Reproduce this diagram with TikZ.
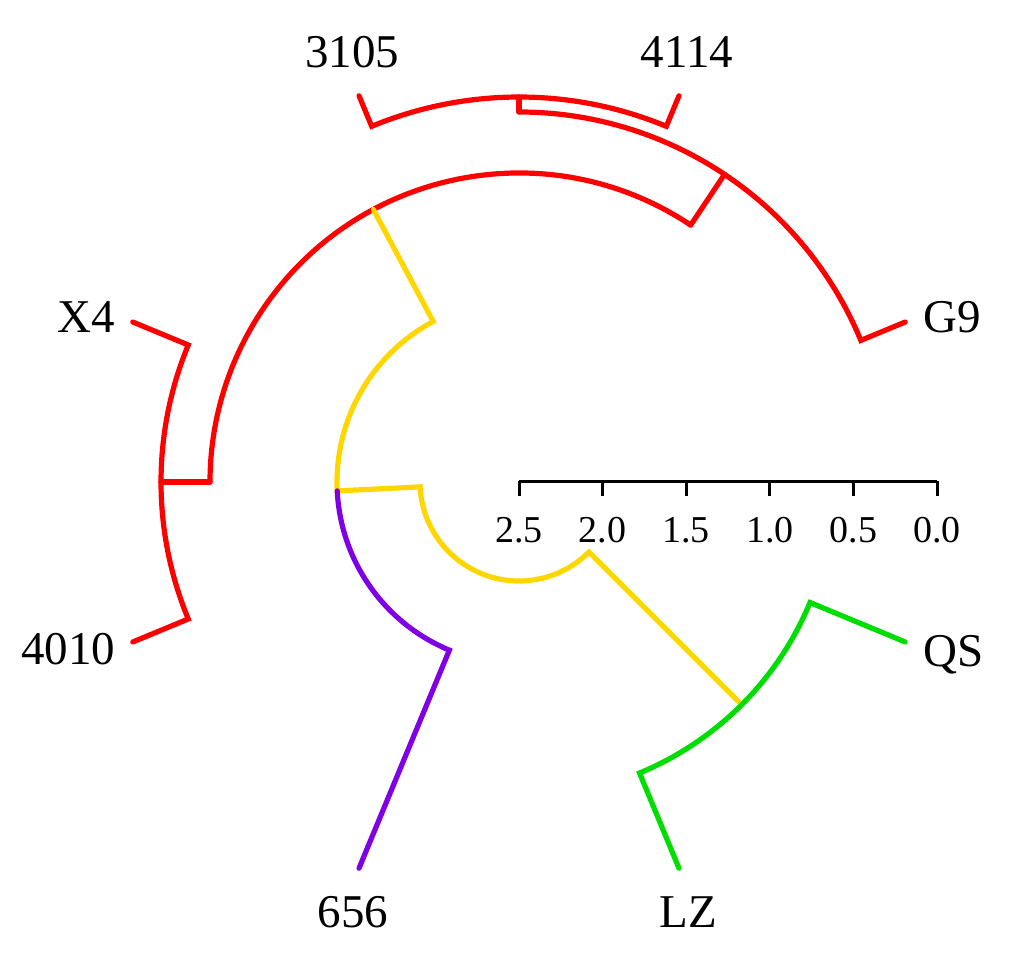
\documentclass[tikz,border=0pt]{standalone}
\usepackage{fontspec}
\setmainfont{Liberation Serif}
\definecolor{cred}{RGB}{255,0,0}
\definecolor{cyel}{RGB}{255,214,0}
\definecolor{cpur}{RGB}{128,0,230}
\definecolor{cgrn}{RGB}{0,221,0}
\begin{document}
\begin{tikzpicture}[x=0.5pt,y=0.5pt,
  br/.style={line width=2.6pt, line cap=round, line join=miter},
  leaflab/.style={anchor=base, inner sep=0pt, font=\fontsize{23.5}{28}\selectfont},
  scalelab/.style={anchor=base, inner sep=0pt, font=\fontsize{19}{23}\selectfont}]
\useasboundingbox (0,0) rectangle (1018,969);
\begin{scope}[shift={(519,487)}]
  % leaves
  \coordinate (l3105) at (112.5:418);
  \coordinate (l4114) at (67.5:418);
  \coordinate (lG9) at (22.5:418);
  \coordinate (lQS) at (-22.5:418);
  \coordinate (lLZ) at (-67.5:418);
  \coordinate (l656) at (247.5:418);
  \coordinate (l4010) at (202.5:418);
  \coordinate (lX4) at (157.5:418);
  % internal nodes
  \coordinate (A) at (90:385);
  \coordinate (B) at (56.25:370);
  \coordinate (C) at (180:358);
  \coordinate (R) at (118.125:309);
  \coordinate (G) at (-45:315);
  \coordinate (N) at (182.8125:182);
  \coordinate (Rt) at (248.90625:99);
  % red cluster
  \draw[br,cred] (l3105) -- (112.5:385) arc[start angle=112.5,end angle=67.5,radius=385] -- (l4114);
  \draw[br,cred] (A) -- (90:370);
  \draw[br,cred] (lG9) -- (22.5:370) arc[start angle=22.5,end angle=90,radius=370];
  \draw[br,cred] (B) -- (56.25:309);
  \draw[br,cred] (lX4) -- (157.5:358) arc[start angle=157.5,end angle=202.5,radius=358] -- (l4010);
  \draw[br,cred] (C) -- (180:309);
  \draw[br,cred] (56.25:309) arc[start angle=56.25,end angle=180,radius=309];
  % yellow backbone
  \draw[br,cyel] (R) -- (118.125:182) arc[start angle=118.125,end angle=182.8125,radius=182];
  \draw[br,cyel] (N) -- (182.8125:99) arc[start angle=182.8125,end angle=315,radius=99] -- (G);
  % purple
  \draw[br,cpur] (l656) -- (247.5:182) arc[start angle=247.5,end angle=182.8125,radius=182];
  % green
  \draw[br,cgrn] (lLZ) -- (292.5:315) arc[start angle=292.5,end angle=337.5,radius=315] -- (lQS);
  % scale bar
  \coordinate (s0) at (0,0);
  \coordinate (s5) at (418,0);
  \draw[line width=1.5pt, line cap=butt] (s0) -- (s5);
  \foreach \i/\t in {0/2.5,1/2.0,2/1.5,3/1.0,4/0.5,5/0.0}{
    \draw[line width=1.5pt] (\i*83.6,0.75) -- (\i*83.6,-14);
    \node[scalelab] (sl\i) at (\i*83.6,-61) {\t};
  }
\end{scope}
% labels (absolute px, y up)
\node[leaflab] (t3105) at (352,901) {3105};
\node[leaflab] (t4114) at (687,901) {4114};
\node[leaflab] (tG9) at (952,636) {G9};
\node[leaflab] (tQS) at (954,302) {QS};
\node[leaflab] (tLZ) at (688,41) {LZ};
\node[leaflab] (t656) at (353,41) {656};
\node[leaflab] (t4010) at (68,304) {4010};
\node[leaflab] (tX4) at (86,636) {X4};
\end{tikzpicture}
\end{document}
